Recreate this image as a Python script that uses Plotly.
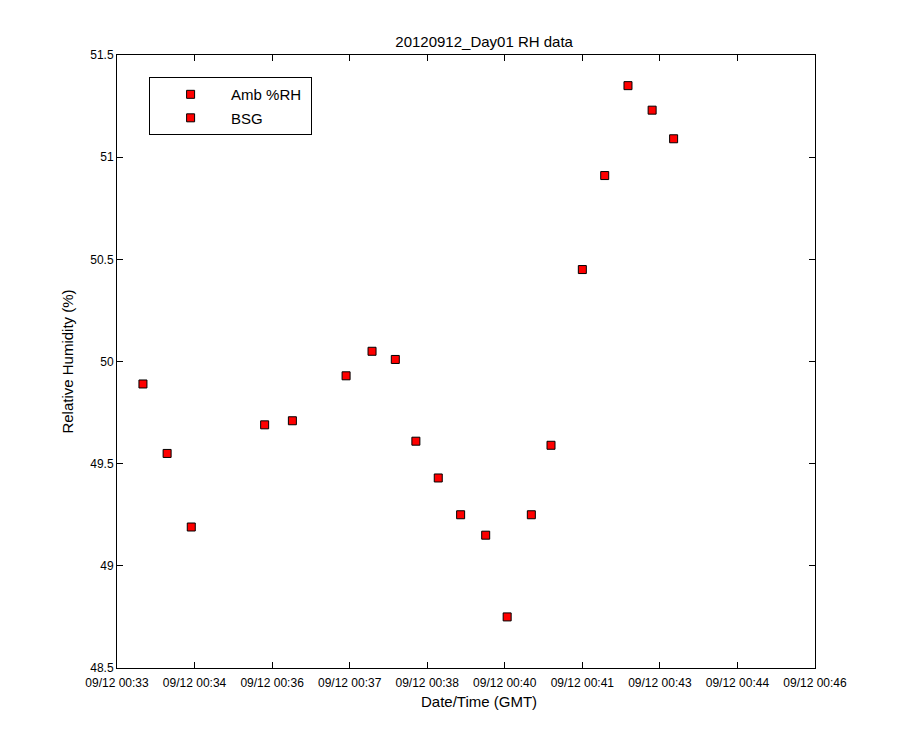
import pandas as pd
import plotly.graph_objects as go

# { data (GMT, 2012-09-12)
times = ['00:33:39', '00:34:06', '00:34:33', '00:35:55', '00:36:26',
         '00:37:26', '00:37:55', '00:38:21', '00:38:44', '00:39:09',
         '00:39:34', '00:40:02', '00:40:26', '00:40:53', '00:41:15',
         '00:41:50', '00:42:15', '00:42:41', '00:43:08', '00:43:32']
amb_rh = [49.89, 49.55, 49.19, 49.69, 49.71,
          49.93, 50.05, 50.01, 49.61, 49.43,
          49.25, 49.15, 48.75, 49.25, 49.59,
          50.45, 50.91, 51.35, 51.23, 51.09]
bsg = [None]  # no visible points, only the legend entry

tick_labels = ['09/12 00:33', '09/12 00:34', '09/12 00:36', '09/12 00:37',
               '09/12 00:38', '09/12 00:40', '09/12 00:41', '09/12 00:43',
               '09/12 00:44', '09/12 00:46']
# }

x = pd.to_datetime(['2012-09-12 ' + t for t in times])
x_start = pd.Timestamp('2012-09-12 00:33:10')
x_end = pd.Timestamp('2012-09-12 00:46:10')
tick_vals = pd.date_range(x_start, x_end, periods=len(tick_labels))

font = 'Liberation Sans, Arial, sans-serif'
marker = dict(symbol='square', size=8, color='red',
              line=dict(color='black', width=1))

fig = go.Figure()
fig.add_trace(go.Scatter(x=x, y=amb_rh, mode='markers', marker=marker,
                         name='Amb %RH\u00a0', legendgroup='a'))
fig.add_trace(go.Scatter(x=bsg, y=bsg, mode='markers', marker=marker,
                         name='BSG', legendgroup='b'))

axis_style = dict(showline=True, linecolor='black', linewidth=1, mirror='ticks',
                  ticks='inside', ticklen=6, tickcolor='black', showgrid=False,
                  zeroline=False, tickfont=dict(size=12, color='black'))

# page is drawn 8px in from the top-left, so margins are trimmed by that
fig.update_layout(
    width=900, height=750,
    margin=dict(l=109, r=93, t=47, b=90),
    paper_bgcolor='white', plot_bgcolor='white',
    font=dict(family=font, color='black'),
    title=dict(text='20120912_Day01 RH data', x=0.526, xref='paper',
               xanchor='center', y=0.955, yanchor='middle',
               font=dict(size=15, color='black')),
    xaxis=dict(range=[x_start, x_end], tickvals=tick_vals, ticktext=tick_labels,
               ticklabelstandoff=4, **axis_style),
    yaxis=dict(range=[48.5, 51.5], dtick=0.5,
               title=dict(text='Relative Humidity (%)', font=dict(size=15), standoff=12),
               **axis_style),
    legend=dict(x=0.046, y=0.964, xanchor='left', yanchor='top',
                bgcolor='white', bordercolor='black', borderwidth=1,
                font=dict(size=15), itemwidth=71, traceorder='grouped',
                tracegroupgap=1),
    showlegend=True,
)

# x label sits a little right of the plot centre, as in the original
fig.add_annotation(text='Date/Time (GMT)', xref='paper', yref='paper',
                   x=0.518, y=-0.055, xanchor='center', yanchor='middle',
                   showarrow=False, font=dict(size=15, color='black'))

fig.write_html('out.html')
